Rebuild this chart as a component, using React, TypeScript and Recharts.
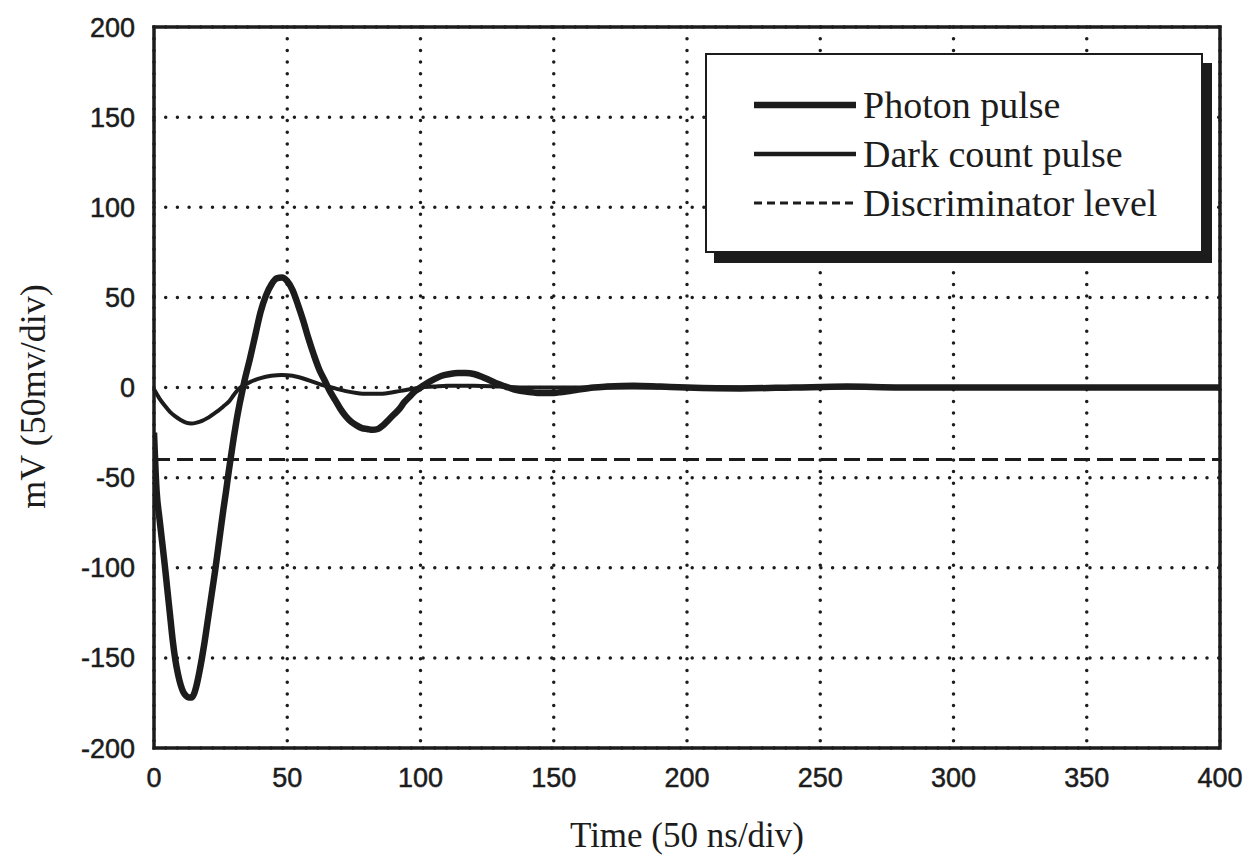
import React from "react";
import {
  LineChart,
  Line,
  XAxis,
  YAxis,
  CartesianGrid,
  Legend,
  ReferenceArea,
} from "recharts";

const photonTime = [
  0, 1, 2, 3, 4, 5, 6, 7, 8, 9, 10, 11, 12, 13, 14, 15, 16, 17, 18, 19, 20, 21, 22, 23, 24, 25, 26, 27, 28, 29, 30,
  31, 32, 33, 34, 36, 38, 40, 42, 44, 46, 48, 50, 52, 54, 56, 58, 60, 62, 64, 66, 68, 70, 72, 74, 76, 78, 80, 82, 84,
  86, 88, 90, 92, 94, 96, 98, 100, 102, 105, 108, 111, 114, 117, 120, 123, 126, 129, 132, 135, 138, 141, 144, 147,
  150, 153, 156, 160, 165, 170, 180, 190, 200, 220, 240, 260, 280, 300, 320, 340, 360, 380, 400,
];
const photonMv = [
  -25, -58, -72, -85, -98, -112, -126, -140, -151, -159, -165, -169, -171, -172, -172, -170, -165, -158, -150, -141,
  -131, -121, -111, -101, -90, -79, -68, -58, -47, -37, -27, -18, -10, -3, 4, 16, 29, 42, 51, 57, 60.5, 61, 59, 54,
  46, 37, 27, 18, 10, 4, -2, -7, -12, -16, -19, -21, -22.5, -23, -23.5, -23, -21, -18, -15, -12, -8, -5, -2, 0, 2,
  4.5, 6.5, 7.5, 8, 8, 7.5, 6, 4, 2, 0.5, -1, -2, -2.5, -3, -3, -3, -2.5, -2, -1, 0, 0.5, 1, 0.5, 0, -0.5, 0, 0.5, 0,
  0, 0, 0, 0, 0, 0,
];

const darkTime = [
  0, 2, 4, 6, 8, 10, 12, 14, 16, 18, 20, 22, 24, 26, 28, 30, 32, 34, 36, 38, 40, 44, 48, 52, 56, 60, 64, 68, 72, 76,
  80, 84, 88, 92, 96, 100, 105, 110, 115, 120, 130, 140, 150, 160, 180, 200, 250, 300, 350, 400,
];
const darkMv = [
  -1, -6, -10, -13.5, -16, -18, -19.5, -20, -19.5, -18.5, -17, -15, -13, -10.5, -8, -4, -0.5, 1.5, 3, 4.2, 5.2, 6.5,
  7, 6.5, 5, 3, 1, -0.5, -2, -3, -3.5, -3.5, -3, -2, -1, 0, 0.5, 1, 1, 1, 0.5, 0, 0, 0, 0, 0, 0, 0, 0, 0,
];

const discriminatorTime = [0, 400];
const discriminatorMv = [-40, -40];

const xTicks = [0, 50, 100, 150, 200, 250, 300, 350, 400];
const yTicks = [-200, -150, -100, -50, 0, 50, 100, 150, 200];

const photonData = photonTime.map((t, i) => ({ t, mv: photonMv[i] }));
const darkData = darkTime.map((t, i) => ({ t, mv: darkMv[i] }));
const discData = discriminatorTime.map((t, i) => ({ t, mv: discriminatorMv[i] }));

const INK = "#1c1c1c";
const SERIF = "'Liberation Serif', 'Times New Roman', serif";
const SANS = "'Liberation Sans', Arial, sans-serif";

const legendRows = [
  { name: "Photon pulse", width: 6.5, dash: undefined as string | undefined },
  { name: "Dark count pulse", width: 4.5, dash: undefined as string | undefined },
  { name: "Discriminator level", width: 3, dash: "8 5" },
];

const renderLegend = () => (
  <div
    style={{
      width: 498,
      height: 200,
      background: "#fff",
      border: `2.5px solid ${INK}`,
      boxShadow: `9px 10px 0 ${INK}`,
      boxSizing: "border-box",
      paddingTop: 25,
      paddingLeft: 45,
    }}
  >
    {legendRows.map((r) => (
      <div key={r.name} style={{ display: "flex", alignItems: "center", height: 49 }}>
        <svg width={106} height={10} style={{ marginRight: 5 }}>
          <line
            x1={2}
            x2={104}
            y1={5}
            y2={5}
            stroke={INK}
            strokeWidth={r.width}
            strokeDasharray={r.dash}
          />
        </svg>
        <span style={{ fontFamily: SERIF, fontSize: 38, color: INK, lineHeight: 1 }}>{r.name}</span>
      </div>
    ))}
  </div>
);

const tickStyle = { fontFamily: SANS, fontSize: 27, fill: INK, stroke: INK, strokeWidth: 0.5 };

export default function App() {
  return (
    <div style={{ position: "absolute", left: 0, top: 0, background: "#fff" }}>
      <LineChart width={1249} height={856} margin={{ top: 27, right: 29, left: 0, bottom: 0 }}>
        <CartesianGrid
          horizontalValues={yTicks}
          verticalValues={xTicks}
          stroke={INK}
          strokeWidth={3.5}
          strokeDasharray="0 11.7"
          strokeLinecap="round"
        />
        <XAxis
          type="number"
          dataKey="t"
          domain={[0, 400]}
          ticks={xTicks}
          allowDataOverflow
          height={108}
          tickSize={0}
          tickMargin={20}
          axisLine={false}
          tick={tickStyle}
          label={{
            content: (p: any) => (
              <text
                x={p.viewBox.x + p.viewBox.width / 2}
                y={p.viewBox.y + 99}
                textAnchor="middle"
                fontFamily={SERIF}
                fontSize={35}
                fill={INK}
              >
                Time (50 ns/div)
              </text>
            ),
          }}
        />
        <YAxis
          type="number"
          dataKey="mv"
          domain={[-200, 200]}
          ticks={yTicks}
          allowDataOverflow
          width={154}
          tickSize={0}
          tickMargin={19}
          axisLine={false}
          tick={tickStyle}
          label={{
            content: (p: any) => {
              const x = p.viewBox.x + 33;
              const y = p.viewBox.y + p.viewBox.height / 2 + 9;
              return (
                <text
                  x={x}
                  y={y}
                  transform={`rotate(-90, ${x}, ${y})`}
                  textAnchor="middle"
                  dominantBaseline="central"
                  fontFamily={SERIF}
                  fontSize={36}
                  fill={INK}
                >
                  mV (50mv/div)
                </text>
              );
            },
          }}
        />
        <ReferenceArea x1={0} x2={400} y1={-200} y2={200} fill="none" stroke={INK} strokeWidth={3.5} />
        <Line
          data={discData}
          dataKey="mv"
          name="Discriminator level"
          type="linear"
          stroke={INK}
          strokeWidth={3}
          strokeDasharray="16 7"
          dot={false}
          isAnimationActive={false}
        />
        <Line
          data={darkData}
          dataKey="mv"
          name="Dark count pulse"
          type="monotone"
          stroke={INK}
          strokeWidth={4}
          dot={false}
          isAnimationActive={false}
        />
        <Line
          data={photonData}
          dataKey="mv"
          name="Photon pulse"
          type="monotone"
          stroke={INK}
          strokeWidth={6.5}
          dot={false}
          isAnimationActive={false}
        />
        <Legend
          content={renderLegend}
          layout="horizontal"
          verticalAlign="middle"
          wrapperStyle={{ position: "absolute", left: 705, top: 53, width: 498, height: 200 }}
        />
      </LineChart>
    </div>
  );
}
